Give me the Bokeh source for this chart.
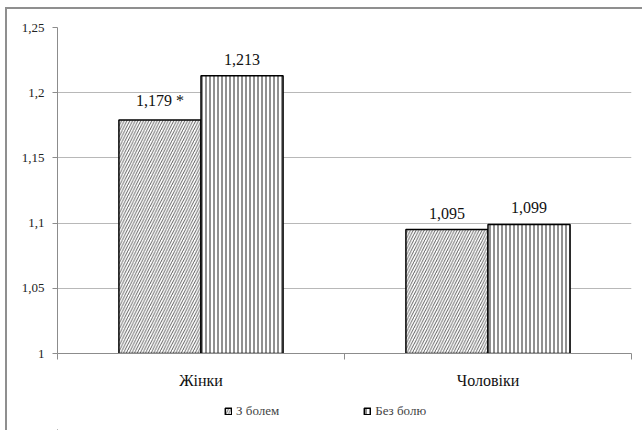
from bokeh.plotting import figure
from bokeh.models import (ColumnDataSource, FixedTicker, Range1d, Legend, LegendItem,
                          LabelSet)
from bokeh.layouts import column
from bokeh.transform import dodge
from bokeh.embed import file_html
from bokeh.resources import INLINE

categories = ["Жінки", "Чоловіки"]
with_pain = [1.179, 1.095]
without_pain = [1.213, 1.099]
with_pain_labels = ["1,179 *", "1,095"]
without_pain_labels = ["1,213", "1,099"]
series_names = ["З болем", "Без болю"]
y_ticks = [1.0, 1.05, 1.1, 1.15, 1.2, 1.25]
y_tick_labels = ["1", "1,05", "1,1", "1,15", "1,2", "1,25"]

xpos = [i + 0.5 for i in range(len(categories))]
src = ColumnDataSource(dict(x=xpos, a=with_pain, b=without_pain,
                            la=with_pain_labels, lb=without_pain_labels))

SERIF = "Liberation Serif"
BAR1 = dict(fill_color="white", line_color="black", line_width=1.5,
            hatch_pattern="/", hatch_color="#333333", hatch_scale=5.5, hatch_weight=0.8)
BAR2 = dict(fill_color="white", line_color="black", line_width=1.5,
            hatch_pattern="|", hatch_color="#222222", hatch_scale=4.0, hatch_weight=1.0)

p = figure(width=635, height=383, output_backend="svg", toolbar_location=None,
           x_range=Range1d(0, len(categories)), y_range=Range1d(1.0, 1.25),
           min_border_left=50, min_border_right=11, min_border_top=18,
           min_border_bottom=39)
p.outline_line_color = None
p.background_fill_color = "white"
p.border_fill_color = "white"

# grid
p.xgrid.grid_line_color = None
p.ygrid.ticker = FixedTicker(ticks=y_ticks)
p.ygrid.grid_line_color = "#b8b8b8"
p.ygrid.grid_line_width = 1

# y axis
p.yaxis.ticker = FixedTicker(ticks=y_ticks)
p.yaxis.major_label_overrides = {t: l for t, l in zip(y_ticks, y_tick_labels)}
p.yaxis.axis_line_color = "#8c8c8c"
p.yaxis.major_tick_line_color = "#8c8c8c"
p.yaxis.major_tick_in = 0
p.yaxis.major_tick_out = 5
p.yaxis.minor_tick_line_color = None
p.yaxis.major_label_standoff = 8
p.yaxis.major_label_text_font = SERIF
p.yaxis.major_label_text_font_size = "13px"
p.yaxis.major_label_text_color = "#222222"

# x axis
p.xaxis.ticker = FixedTicker(ticks=xpos, minor_ticks=list(range(len(categories) + 1)))
p.xaxis.major_label_overrides = {x: c for x, c in zip(xpos, categories)}
p.xaxis.axis_line_color = "#8c8c8c"
p.xaxis.major_tick_line_color = None
p.xaxis.major_tick_in = 0
p.xaxis.major_tick_out = 0
p.xaxis.minor_tick_line_color = "#8c8c8c"
p.xaxis.minor_tick_in = 0
p.xaxis.minor_tick_out = 6
p.xaxis.major_label_standoff = 12
p.xaxis.major_label_text_font = SERIF
p.xaxis.major_label_text_font_size = "16px"
p.xaxis.major_label_text_color = "#111111"

bw = 0.286
p.vbar(x=dodge("x", -bw / 2, range=p.x_range), top="a", bottom=1.0, width=bw,
       source=src, **BAR1)
p.vbar(x=dodge("x", bw / 2, range=p.x_range), top="b", bottom=1.0, width=bw,
       source=src, **BAR2)

for col, lab, off in (("a", "la", -bw / 2), ("b", "lb", bw / 2)):
    ls = LabelSet(x=dodge("x", off, range=p.x_range), y=col, text=lab, source=src,
                  text_align="center", text_baseline="bottom", y_offset=11,
                  text_font=SERIF, text_font_size="16px", text_color="#111111")
    p.add_layout(ls)

# legend strip (its bars are kept outside its visible range; only the legend shows)
lg = figure(width=635, height=38, output_backend="svg", toolbar_location=None,
            x_range=Range1d(100, 101), y_range=Range1d(100, 101), min_border=0)
lg.axis.visible = False
lg.grid.visible = False
lg.outline_line_color = None
lg.border_fill_color = "white"
l1 = lg.vbar(x="x", top="a", bottom=1.0, width=bw, source=src, **BAR1)
l2 = lg.vbar(x="x", top="b", bottom=1.0, width=bw, source=src, **BAR2)
legend = Legend(items=[LegendItem(label=series_names[0], renderers=[l1]),
                       LegendItem(label=series_names[1], renderers=[l2])],
                orientation="horizontal", location=(167, 11),
                label_text_font=SERIF, label_text_font_size="13px",
                glyph_width=8, glyph_height=8, label_standoff=4,
                spacing=84, padding=0, margin=0,
                border_line_color=None, background_fill_alpha=0)
lg.add_layout(legend, "center")

layout = column(p, lg, spacing=0)
layout.styles = {"margin-left": "5px", "margin-top": "7px",
                 "border-left": "2px solid #8f8f8f", "border-top": "2px solid #8f8f8f"}

open("out.html", "w").write(file_html(layout, INLINE))
